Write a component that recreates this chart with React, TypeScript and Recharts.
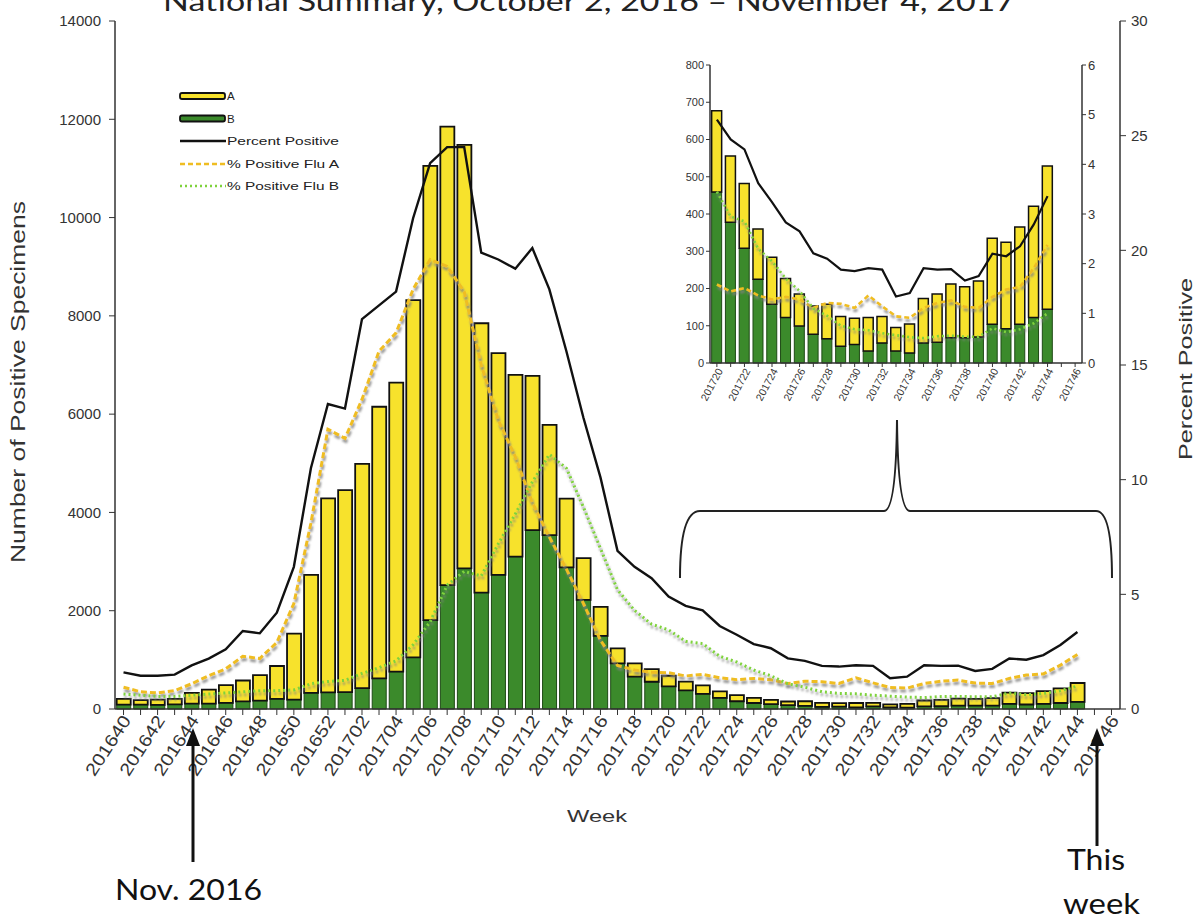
import React from "react";
import { ComposedChart, Bar, Line, XAxis, YAxis } from "recharts";

// week labels (2016 wk 40 -> 2017 wk 46)
const weeks = [
  "201640", "201641", "201642", "201643", "201644", "201645", "201646", "201647",
  "201648", "201649", "201650", "201651", "201652", "201701", "201702", "201703",
  "201704", "201705", "201706", "201707", "201708", "201709", "201710", "201711",
  "201712", "201713", "201714", "201715", "201716", "201717", "201718", "201719",
  "201720", "201721", "201722", "201723", "201724", "201725", "201726", "201727",
  "201728", "201729", "201730", "201731", "201732", "201733", "201734", "201735",
  "201736", "201737", "201738", "201739", "201740", "201741", "201742", "201743",
  "201744", "201745", "201746",
];

// positive specimens
const fluA = [
  115, 92, 108, 110, 220, 285, 360, 425, 520, 670, 1345, 2400, 3945, 4110, 4565, 5525,
  5880, 7270, 9240, 9330, 8620, 5480, 4510, 3700, 3140, 2240, 1400, 850, 590, 305, 270, 255,
  218, 178, 174, 135, 126, 105, 86, 76, 93, 80, 70, 90, 71, 63, 78, 119,
  129, 144, 137, 150, 231, 232, 261, 299, 385, null, null,
];
const fluB = [
  90, 88, 82, 95, 110, 110, 125, 155, 170, 205, 190, 330, 340, 345, 425, 625,
  760, 1050, 1810, 2520, 2860, 2370, 2730, 3100, 3640, 3540, 2880, 2220, 1490, 930, 660, 555,
  459, 378, 308, 225, 158, 122, 99, 77, 65, 45, 50, 32, 54, 32, 27, 54,
  56, 68, 68, 70, 104, 92, 104, 122, 144, null, null,
];

// percent positive
const pctPositive = [
  1.6, 1.45, 1.45, 1.5, 1.9, 2.2, 2.6, 3.4, 3.3, 4.2, 6.2, 10.5, 13.3, 13.1, 17.0, 17.6,
  18.2, 21.4, 23.8, 24.5, 24.5, 19.9, 19.6, 19.2, 20.1, 18.3, 15.6, 12.7, 10.1, 6.9, 6.2, 5.7,
  4.9, 4.5, 4.3, 3.62, 3.24, 2.83, 2.65, 2.21, 2.1, 1.88, 1.85, 1.91, 1.88, 1.34, 1.41, 1.91,
  1.88, 1.89, 1.66, 1.75, 2.2, 2.15, 2.35, 2.79, 3.36, null, null,
];
const pctFluA = [
  0.95, 0.75, 0.7, 0.8, 1.1, 1.45, 1.75, 2.3, 2.2, 2.9, 4.6, 8.1, 12.2, 11.8, 13.5, 15.6,
  16.4, 18.3, 19.6, 19.3, 18.2, 15.0, 12.6, 11.0, 9.0, 7.5, 6.1, 4.6, 3.0, 1.9, 1.7, 1.6,
  1.58, 1.44, 1.51, 1.36, 1.28, 1.33, 1.28, 1.11, 1.21, 1.19, 1.11, 1.36, 1.14, 0.94, 0.91, 1.11,
  1.21, 1.26, 1.13, 1.11, 1.33, 1.48, 1.53, 1.91, 2.38, null, null,
];
const pctFluB = [
  0.65, 0.6, 0.55, 0.55, 0.6, 0.65, 0.7, 0.75, 0.8, 0.8, 0.83, 1.1, 1.2, 1.25, 1.55, 1.8,
  2.1, 2.8, 3.8, 5.4, 6.0, 5.8, 7.2, 8.5, 9.9, 11.1, 10.5, 8.8, 7.0, 5.2, 4.3, 3.7,
  3.45, 2.95, 2.85, 2.3, 2.05, 1.7, 1.45, 1.1, 0.95, 0.75, 0.68, 0.66, 0.6, 0.56, 0.52, 0.5,
  0.54, 0.55, 0.53, 0.53, 0.7, 0.62, 0.68, 0.8, 1.0, null, null,
];

const countTicks = [0, 2000, 4000, 6000, 8000, 10000, 12000, 14000];
const pctTicks = [0, 5, 10, 15, 20, 25, 30];
const insetCountTicks = [0, 100, 200, 300, 400, 500, 600, 700, 800];
const insetPctTicks = [0, 1, 2, 3, 4, 5, 6];
const insetFrom = "201720";

const YELLOW = "#f7e22c";
const GREEN = "#3b8a2b";
const GOLD = "#efbd22";
const LIME = "#7fd23c";
const FONT = "'Liberation Sans', Arial, sans-serif";
const HAND = "Lato, 'Open Sans', sans-serif";

const data = weeks.map((week, i) => ({
  week,
  a: fluA[i],
  b: fluB[i],
  pct: pctPositive[i],
  pctA: pctFluA[i],
  pctB: pctFluB[i],
}));
const insetData = data.slice(weeks.indexOf(insetFrom));

// every other week gets a slanted label
const WeekTick = ({ x, y, payload, size, len, angle }: any) => {
  const idx = weeks.indexOf(payload.value);
  if (idx % 2 !== 0) return <g />;
  return (
    <g transform={`translate(${x + 3},${y})`}>
      <text
        x={0}
        y={0}
        dy="0.35em"
        transform={`rotate(${angle})`}
        textAnchor="end"
        fill="#333"
        fontSize={size}
        fontFamily={FONT}
        textLength={len}
        lengthAdjust="spacingAndGlyphs"
      >
        {payload.value}
      </text>
    </g>
  );
};

const ShadowDef = ({ id }: { id: string }) => (
  <defs>
    <filter id={id} x="-5%" y="-5%" width="110%" height="125%">
      <feDropShadow dx="1" dy="3" stdDeviation="1.3" floodColor="#808080" floodOpacity="0.85" />
    </filter>
  </defs>
);

export default function App() {
  const tickStyle = { fill: "#333", fontSize: 15, fontFamily: FONT };
  const insetTick = { fill: "#333", fontSize: 11, fontFamily: FONT };
  const axis = { stroke: "#333", strokeWidth: 1.5 };
  return (
    <div style={{ position: "absolute", left: 0, top: 0, width: 1195, height: 922, background: "#fff" }}>
      {/* main chart */}
      <div style={{ position: "absolute", left: 0, top: 0 }}>
        <ComposedChart
          width={1195}
          height={922}
          data={data}
          barCategoryGap="10%"
          margin={{ top: 21, right: 15, bottom: 123, left: 55 }}
        >
          <ShadowDef id="shadowMain" />
          <XAxis
            dataKey="week"
            interval={0}
            height={90}
            tick={<WeekTick size={17.5} len={68} angle={-57} />}
            tickLine={{ stroke: "#333" }}
            axisLine={axis}
          />
          <YAxis
            yAxisId="count"
            width={60}
            domain={[0, 14000]}
            ticks={countTicks}
            tick={{ ...tickStyle, dx: -6 }}
            tickLine={{ stroke: "#333" }}
            axisLine={axis}
          />
          <YAxis
            yAxisId="pct"
            orientation="right"
            width={60}
            domain={[0, 30]}
            ticks={pctTicks}
            tick={{ ...tickStyle, dx: 3 }}
            tickLine={{ stroke: "#333" }}
            axisLine={axis}
          />
          <Bar yAxisId="count" dataKey="b" stackId="s" fill={GREEN} stroke="#1f4a16" strokeWidth={1} isAnimationActive={false} />
          <Bar yAxisId="count" dataKey="a" stackId="s" fill={YELLOW} stroke="#111" strokeWidth={1.8} isAnimationActive={false} />
          <Line yAxisId="pct" dataKey="pct" type="linear" stroke="#111" strokeWidth={2.4} dot={false} isAnimationActive={false} />
          <Line yAxisId="pct" dataKey="pctA" type="linear" stroke={GOLD} strokeWidth={3} strokeDasharray="6 3" dot={false} filter="url(#shadowMain)" isAnimationActive={false} />
          <Line yAxisId="pct" dataKey="pctB" type="linear" stroke={LIME} strokeWidth={3} strokeDasharray="2 3" dot={false} filter="url(#shadowMain)" isAnimationActive={false} />
        </ComposedChart>
      </div>

      {/* inset: zoom on the summer weeks */}
      <div style={{ position: "absolute", left: 650, top: 50 }}>
        <ComposedChart
          width={470}
          height={360}
          data={insetData}
          barCategoryGap="12%"
          margin={{ top: 15, right: 8, bottom: 0, left: 20 }}
        >
          <ShadowDef id="shadowInset" />
          <XAxis
            dataKey="week"
            interval={0}
            height={47}
            tick={<WeekTick size={10.5} len={35} angle={-62} />}
            tickSize={4}
            tickLine={{ stroke: "#333" }}
            axisLine={axis}
          />
          <YAxis
            yAxisId="count"
            width={40}
            domain={[0, 800]}
            ticks={insetCountTicks}
            tick={insetTick}
            tickSize={4}
            tickLine={{ stroke: "#333" }}
            axisLine={axis}
          />
          <YAxis
            yAxisId="pct"
            orientation="right"
            width={30}
            domain={[0, 6]}
            ticks={insetPctTicks}
            tick={{ ...insetTick, fontSize: 13 }}
            tickSize={4}
            tickLine={{ stroke: "#333" }}
            axisLine={axis}
          />
          <Bar yAxisId="count" dataKey="b" stackId="s" fill={GREEN} stroke="#1f4a16" strokeWidth={1} isAnimationActive={false} />
          <Bar yAxisId="count" dataKey="a" stackId="s" fill={YELLOW} stroke="#111" strokeWidth={1.5} isAnimationActive={false} />
          <Line yAxisId="pct" dataKey="pct" type="linear" stroke="#111" strokeWidth={2.2} dot={false} isAnimationActive={false} />
          <Line yAxisId="pct" dataKey="pctA" type="linear" stroke={GOLD} strokeWidth={2.6} strokeDasharray="5 3" dot={false} filter="url(#shadowInset)" isAnimationActive={false} />
          <Line yAxisId="pct" dataKey="pctB" type="linear" stroke={LIME} strokeWidth={2.6} strokeDasharray="2 3" dot={false} filter="url(#shadowInset)" isAnimationActive={false} />
        </ComposedChart>
      </div>

      {/* titles, legend and annotations */}
      <svg width={1195} height={922} style={{ position: "absolute", left: 0, top: 0, pointerEvents: "none" }}>
        <text x={163} y={11} fontSize={27} fontFamily={HAND} fill="#222" textLength={852} lengthAdjust="spacingAndGlyphs">
          National Summary, October 2, 2016 – November 4, 2017
        </text>
        <text
          transform="translate(25,382) rotate(-90)"
          textAnchor="middle"
          fontSize={20}
          fontFamily={FONT}
          fill="#333"
          textLength={362}
          lengthAdjust="spacingAndGlyphs"
        >
          Number of Positive Specimens
        </text>
        <text
          transform="translate(1192,369) rotate(-90)"
          textAnchor="middle"
          fontSize={19}
          fontFamily={FONT}
          fill="#333"
          textLength={182}
          lengthAdjust="spacingAndGlyphs"
        >
          Percent Positive
        </text>
        <text x={597} y={822} textAnchor="middle" fontSize={17} fontFamily={FONT} fill="#333" textLength={60} lengthAdjust="spacingAndGlyphs">
          Week
        </text>

        {/* legend */}
        <g fontFamily={FONT} fontSize={11.5} fill="#222">
          <rect x={180} y={93} width={45} height={6} rx={2} fill={YELLOW} stroke="#111" strokeWidth={1.8} />
          <text x={227} y={100}>A</text>
          <rect x={180} y={115.5} width={45} height={6} rx={2} fill={GREEN} stroke="#111" strokeWidth={1.8} />
          <text x={227} y={122.5}>B</text>
          <line x1={180} y1={141} x2={226} y2={141} stroke="#111" strokeWidth={2.6} />
          <text x={227} y={145} textLength={112} lengthAdjust="spacingAndGlyphs">Percent Positive</text>
          <line x1={180} y1={164} x2={226} y2={164} stroke={GOLD} strokeWidth={2.6} strokeDasharray="5 3" />
          <text x={227} y={168} textLength={112} lengthAdjust="spacingAndGlyphs">% Positive Flu A</text>
          <line x1={180} y1={186} x2={226} y2={186} stroke={LIME} strokeWidth={2.6} strokeDasharray="2 3" />
          <text x={227} y={190} textLength={112} lengthAdjust="spacingAndGlyphs">% Positive Flu B</text>
        </g>

        {/* brace pointing at the inset */}
        <path
          d="M 680 578 Q 680 511 700 511 L 884 511 Q 896 511 897 420 Q 898 511 910 511 L 1096 511 Q 1112 511 1112 578"
          fill="none"
          stroke="#222"
          strokeWidth={2}
        />

        {/* arrows */}
        <line x1={193} y1={862} x2={193} y2={742} stroke="#111" strokeWidth={3} />
        <polygon points="186,746 200,746 193,728" fill="#111" />
        <line x1={1097} y1={846} x2={1097} y2={742} stroke="#111" strokeWidth={3} />
        <polygon points="1090,746 1104,746 1097,728" fill="#111" />

        <g fontFamily={HAND} fontSize={28} fill="#111">
          <text x={115} y={900} textLength={147} lengthAdjust="spacingAndGlyphs">Nov. 2016</text>
          <text x={1067} y={870} textLength={58} lengthAdjust="spacingAndGlyphs">This</text>
          <text x={1063} y={914} textLength={77} lengthAdjust="spacingAndGlyphs">week</text>
        </g>
      </svg>
    </div>
  );
}
